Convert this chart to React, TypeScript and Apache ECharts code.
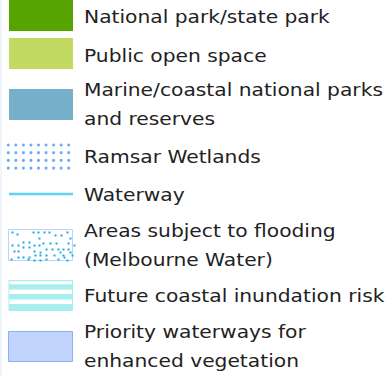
import React, { useEffect, useRef } from "react";
import * as echarts from "echarts";

// Legend entries (text lines per entry)
const legendLabels: string[][] = [
  ["National park/state park"],
  ["Public open space"],
  ["Marine/coastal national parks", "and reserves"],
  ["Ramsar Wetlands"],
  ["Waterway"],
  ["Areas subject to flooding", "(Melbourne Water)"],
  ["Future coastal inundation risk"],
  ["Priority waterways for", "enhanced vegetation"],
];
const legendKinds: string[] = ["solid", "solid", "solid", "dots", "line", "scatter", "stripes", "outlined"];

// flood pattern dot offsets inside swatch (decorative pattern)
const floodDots: [number, number][] = [
  [3, 2], [24, 2], [29, 2], [35, 2], [40, 2], [58, 2],
  [8, 4], [46, 5], [52, 5], [30, 8], [61, 8],
  [14, 12], [20, 12], [41, 13], [47, 13], [59, 13], [34, 13],
  [3, 15], [9, 15], [25, 15], [30, 15], [65, 15],
  [14, 17], [20, 17], [37, 19], [43, 19], [49, 19], [54, 19], [59, 19],
  [5, 21], [9, 21], [25, 21], [31, 22], [51, 22], [61, 22],
  [26, 25], [31, 25], [37, 25], [45, 25], [54, 25], [63, 25],
  [9, 27], [14, 27], [20, 27], [37, 29], [49, 29], [55, 27],
  [2, 29], [19, 29], [25, 30], [31, 30], [58, 30],
];

const SW_X = 9;
const SW_W = 64;
const SW_H = 31;
const TEXT_X = 84;
const rowTops = [-1, 38, 89, 145, 194, 229.5, 280, 331];
const firstBaselines = [22.7, 61.7, 96, 163, 201, 237, 302, 338];
const LINE_GAP = 29;
const FONT = 18;
const TEXT_SCALE_X = 1.125;

function buildGraphics(): any[] {
  const els: any[] = [];
  els.push({ type: "rect", shape: { x: 0, y: 0, width: 2, height: 376 }, style: { fill: "#eef5fd" } });
  legendLabels.forEach((lines, i) => {
    const kind = legendKinds[i];
    const top = rowTops[i];
    if (kind === "solid") {
      const fills = ["#56a400", "#c3da62", "#75afc9"];
      els.push({ type: "rect", shape: { x: SW_X, y: top, width: SW_W, height: i === 0 ? SW_H + 1 : SW_H }, style: { fill: fills[i] } });
    } else if (kind === "dots") {
      for (let r = 0; r < 4; r++) {
        for (let c = 0; c < 9; c++) {
          els.push({
            type: "circle",
            shape: { cx: 8.3 + c * 7.55, cy: top + r * 7.7, r: 1.55 },
            style: { fill: "#6caef6" },
          });
        }
      }
    } else if (kind === "line") {
      els.push({ type: "line", shape: { x1: SW_X, y1: top, x2: SW_X + SW_W, y2: top }, style: { stroke: "#62d0f3", lineWidth: 2.5 } });
    } else if (kind === "scatter") {
      els.push({ type: "rect", shape: { x: 8.5, y: top, width: 64, height: 31 }, style: { fill: "#ffffff", stroke: "#bfd2fb", lineWidth: 1 } });
      floodDots.forEach(([dx, dy]) => {
        els.push({ type: "rect", shape: { x: 8.5 + dx, y: top + dy, width: 2, height: 2 }, style: { fill: "#1ca8e6" } });
      });
    } else if (kind === "stripes") {
      els.push({ type: "rect", shape: { x: SW_X - 0.5, y: top, width: SW_W + 0.5, height: SW_H }, style: { fill: "#a8eeee" } });
      [[1.2, 3], [9.5, 4.5], [19.5, 4.5]].forEach(([dy, h]) => {
        els.push({ type: "rect", shape: { x: SW_X + 0.5, y: top + dy, width: SW_W - 1.5, height: h }, style: { fill: "#ffffff" } });
      });
    } else if (kind === "outlined") {
      els.push({ type: "rect", shape: { x: 8.5, y: top + 0.5, width: 64, height: 30 }, style: { fill: "#c2d4fb", stroke: "#8eaef6", lineWidth: 1 } });
    }
    lines.forEach((line, j) => {
      els.push({
        type: "text",
        x: TEXT_X,
        y: firstBaselines[i] + j * LINE_GAP - 6.2,
        scaleX: TEXT_SCALE_X,
        style: {
          text: line,
          fill: "#222222",
          font: `400 ${FONT}px "DejaVu Sans"`,
          align: "left",
          verticalAlign: "middle",
        },
      });
    });
  });
  return els;
}

export default function App() {
  const ref = useRef<HTMLDivElement>(null);
  useEffect(() => {
    if (!ref.current) return;
    const chart = echarts.init(ref.current, undefined, { renderer: "svg" });
    chart.setOption({
      animation: false,
      backgroundColor: "#ffffff",
      graphic: { elements: buildGraphics() },
    });
    return () => chart.dispose();
  }, []);
  return (
    <div
      ref={ref}
      style={{ position: "fixed", left: 0, top: 0, width: 388, height: 376, background: "#fff" }}
    />
  );
}
